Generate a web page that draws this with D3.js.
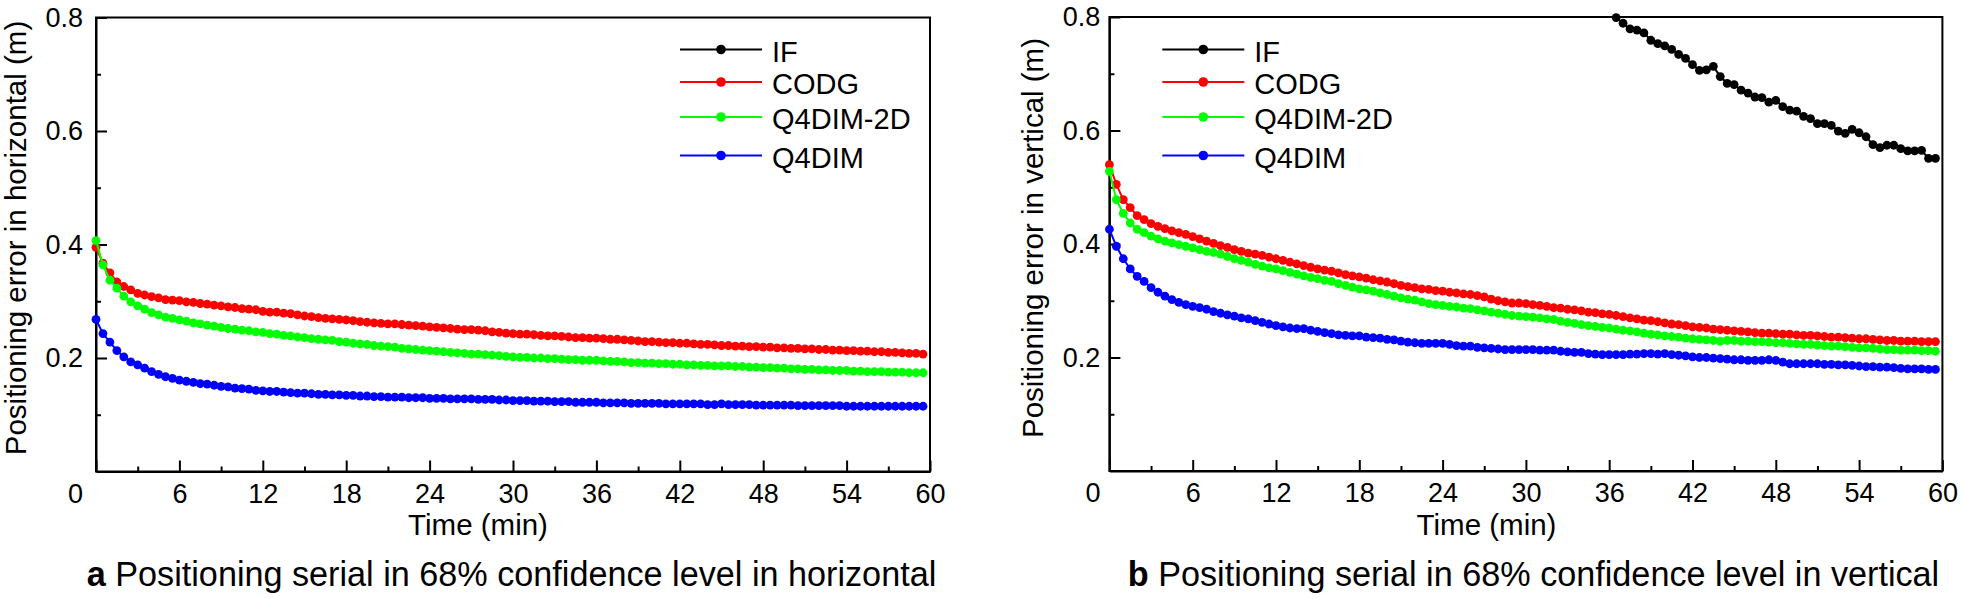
<!DOCTYPE html>
<html><head><meta charset="utf-8">
<script src="https://cdn.jsdelivr.net/npm/d3@7"></script>
<style>
body{margin:0;background:#fff}
svg{display:block;font-family:"Liberation Sans",Arial,Helvetica,sans-serif}
</style>
</head><body>
<svg id="chart" width="1961" height="599"></svg>
<script>
// ---------------- DATA ----------------
const seriesNames  = ["IF", "CODG", "Q4DIM-2D", "Q4DIM"];
const seriesColors = ["#000000", "#ff0000", "#00ff00", "#0000ff"];
const timeMin = d3.range(0, 60, 0.5);          // epochs every 0.5 min
const xTicks = [0, 6, 12, 18, 24, 30, 36, 42, 48, 54, 60];
const xMinorTicks = [3, 9, 15, 21, 27, 33, 39, 45, 51, 57];
const yTicks = [0.2, 0.4, 0.6, 0.8];
const yMinorTicks = [0.1, 0.3, 0.5, 0.7];
const captionA = ["a", " Positioning serial in 68% confidence level in horizontal"];
const captionB = ["b", " Positioning serial in 68% confidence level in vertical"];

// Horizontal (panel a) — IF lies above the 0.8 m axis limit for the whole session
const hIF = [];
const hIFStart = 0;
const hCODG = [
0.395,0.367,0.350,0.334,0.326,0.320,0.314,0.311,0.308,0.306,
0.303,0.302,0.301,0.299,0.298,0.296,0.295,0.293,0.292,0.290,
0.289,0.287,0.286,0.285,0.282,0.281,0.281,0.279,0.278,0.276,
0.274,0.273,0.271,0.270,0.269,0.268,0.267,0.266,0.264,0.263,
0.262,0.261,0.260,0.260,0.259,0.258,0.257,0.256,0.255,0.254,
0.253,0.252,0.251,0.250,0.250,0.249,0.248,0.246,0.245,0.244,
0.243,0.242,0.242,0.241,0.240,0.239,0.239,0.238,0.237,0.236,
0.236,0.235,0.235,0.234,0.233,0.233,0.232,0.231,0.230,0.229,
0.229,0.228,0.227,0.227,0.226,0.226,0.225,0.224,0.224,0.223,
0.222,0.222,0.221,0.221,0.220,0.220,0.219,0.219,0.218,0.218,
0.217,0.217,0.216,0.216,0.215,0.215,0.214,0.214,0.213,0.213,
0.212,0.212,0.211,0.211,0.210,0.210,0.209,0.208,0.208,0.207];
const hQ4DIM2D = [
0.407,0.364,0.337,0.323,0.309,0.299,0.292,0.286,0.280,0.276,
0.272,0.270,0.267,0.265,0.262,0.260,0.258,0.256,0.254,0.252,
0.251,0.249,0.248,0.246,0.245,0.243,0.242,0.240,0.239,0.237,
0.236,0.234,0.233,0.232,0.231,0.229,0.228,0.226,0.225,0.224,
0.222,0.221,0.220,0.219,0.217,0.216,0.215,0.214,0.213,0.212,
0.211,0.210,0.209,0.208,0.207,0.207,0.206,0.205,0.204,0.203,
0.202,0.201,0.201,0.200,0.200,0.199,0.199,0.198,0.197,0.197,
0.196,0.196,0.196,0.195,0.194,0.194,0.193,0.192,0.192,0.191,
0.191,0.190,0.190,0.189,0.189,0.188,0.188,0.187,0.187,0.186,
0.186,0.186,0.185,0.185,0.184,0.184,0.183,0.183,0.182,0.182,
0.181,0.181,0.180,0.180,0.179,0.179,0.178,0.178,0.178,0.177,
0.177,0.176,0.176,0.176,0.175,0.175,0.175,0.174,0.174,0.174];
const hQ4DIM = [
0.268,0.243,0.228,0.213,0.202,0.193,0.188,0.182,0.176,0.171,
0.167,0.164,0.161,0.159,0.157,0.155,0.154,0.152,0.150,0.149,
0.147,0.146,0.145,0.143,0.142,0.141,0.141,0.140,0.139,0.138,
0.138,0.137,0.136,0.136,0.135,0.135,0.134,0.134,0.133,0.133,
0.132,0.132,0.131,0.131,0.131,0.130,0.130,0.130,0.129,0.129,
0.129,0.128,0.128,0.128,0.128,0.127,0.127,0.127,0.126,0.126,
0.125,0.125,0.125,0.124,0.124,0.124,0.123,0.123,0.123,0.122,
0.122,0.122,0.122,0.121,0.121,0.121,0.121,0.120,0.120,0.120,
0.120,0.120,0.119,0.119,0.119,0.119,0.119,0.119,0.118,0.118,
0.119,0.118,0.118,0.118,0.118,0.117,0.117,0.117,0.117,0.117,
0.117,0.116,0.116,0.116,0.116,0.116,0.116,0.116,0.115,0.115,
0.115,0.115,0.115,0.115,0.115,0.115,0.115,0.115,0.115,0.115];

// Vertical (panel b) — IF enters the 0.8 m axis range at 36.5 min
const vIFStart = 36.5;
const vIF = [
0.799,0.789,0.779,0.777,0.772,0.759,0.753,0.749,0.743,0.734,
0.727,0.716,0.706,0.707,0.713,0.695,0.683,0.681,0.671,0.666,
0.659,0.658,0.650,0.653,0.642,0.636,0.634,0.625,0.621,0.612,
0.612,0.609,0.599,0.595,0.602,0.596,0.589,0.575,0.570,0.574,
0.574,0.568,0.564,0.564,0.565,0.551,0.551];
const vCODG = [
0.540,0.505,0.478,0.464,0.450,0.443,0.436,0.431,0.427,0.423,
0.420,0.417,0.413,0.409,0.405,0.401,0.397,0.394,0.390,0.387,
0.384,0.382,0.380,0.377,0.374,0.371,0.368,0.365,0.362,0.359,
0.356,0.354,0.352,0.349,0.346,0.344,0.342,0.340,0.337,0.335,
0.333,0.330,0.327,0.325,0.323,0.321,0.320,0.318,0.317,0.315,
0.314,0.312,0.311,0.309,0.307,0.303,0.300,0.298,0.296,0.296,
0.295,0.293,0.292,0.290,0.288,0.287,0.285,0.284,0.282,0.280,
0.279,0.277,0.276,0.274,0.272,0.270,0.268,0.266,0.265,0.263,
0.261,0.259,0.258,0.256,0.254,0.253,0.252,0.250,0.249,0.248,
0.247,0.246,0.245,0.244,0.243,0.243,0.242,0.241,0.241,0.240,
0.239,0.239,0.238,0.237,0.236,0.236,0.235,0.234,0.233,0.233,
0.232,0.231,0.230,0.230,0.229,0.229,0.229,0.228,0.228,0.228];
const vQ4DIM2D = [
0.528,0.478,0.454,0.437,0.426,0.420,0.414,0.409,0.405,0.402,
0.399,0.396,0.393,0.390,0.387,0.385,0.382,0.378,0.374,0.371,
0.368,0.364,0.361,0.358,0.356,0.353,0.350,0.347,0.344,0.341,
0.339,0.336,0.334,0.330,0.327,0.324,0.321,0.319,0.317,0.314,
0.311,0.308,0.305,0.303,0.301,0.298,0.295,0.293,0.292,0.290,
0.289,0.287,0.286,0.284,0.282,0.280,0.278,0.276,0.274,0.273,
0.272,0.271,0.270,0.268,0.267,0.264,0.262,0.260,0.258,0.256,
0.255,0.253,0.252,0.250,0.248,0.247,0.245,0.243,0.241,0.240,
0.238,0.237,0.236,0.234,0.233,0.232,0.231,0.230,0.229,0.230,
0.230,0.229,0.229,0.228,0.228,0.227,0.226,0.226,0.225,0.224,
0.223,0.223,0.222,0.221,0.220,0.220,0.219,0.218,0.217,0.217,
0.216,0.215,0.214,0.214,0.213,0.213,0.213,0.212,0.212,0.211];
const vQ4DIM = [
0.426,0.396,0.374,0.356,0.343,0.334,0.323,0.315,0.308,0.302,
0.297,0.293,0.290,0.288,0.285,0.281,0.278,0.275,0.273,0.270,
0.268,0.265,0.262,0.259,0.256,0.254,0.252,0.251,0.251,0.248,
0.246,0.244,0.242,0.240,0.239,0.238,0.238,0.236,0.235,0.234,
0.232,0.231,0.229,0.227,0.226,0.225,0.225,0.225,0.225,0.223,
0.221,0.220,0.220,0.218,0.217,0.216,0.215,0.214,0.214,0.214,
0.214,0.214,0.213,0.213,0.213,0.211,0.210,0.209,0.209,0.207,
0.206,0.205,0.205,0.205,0.205,0.206,0.206,0.207,0.207,0.206,
0.207,0.205,0.204,0.203,0.201,0.200,0.200,0.199,0.198,0.197,
0.196,0.196,0.195,0.195,0.195,0.196,0.195,0.192,0.189,0.189,
0.189,0.189,0.189,0.188,0.188,0.187,0.187,0.186,0.185,0.184,
0.184,0.183,0.183,0.182,0.181,0.180,0.180,0.180,0.179,0.179];

// ---------------- LAYOUT ----------------
const svg = d3.select("#chart");
const panels = [
  { left: 96, right: 930, top: 17.5, bottom: 471.5,
    yTitle: "Positioning error in horizontal (m)", yTitleX: 26, yLabelPad: 13,
    zeroShift: -21, xTitleX: 478, legendX: 680, caption: captionA, captionX: 511.5,
    series: [{d: hIF, s: hIFStart}, {d: hCODG, s: 0}, {d: hQ4DIM2D, s: 0}, {d: hQ4DIM, s: 0}] },
  { left: 1109.4, right: 1942.4, top: 17, bottom: 471,
    yTitle: "Positioning error in vertical (m)", yTitleX: 1043, yLabelPad: 9,
    zeroShift: -17, xTitleX: 1486.5, legendX: 1162.3, caption: captionB, captionX: 1533.5,
    series: [{d: vIF, s: vIFStart}, {d: vCODG, s: 0}, {d: vQ4DIM2D, s: 0}, {d: vQ4DIM, s: 0}] }
];
const legendRowsY = [49.5, 82, 117, 155.5];

panels.forEach(p => {
  const x = d3.scaleLinear().domain([0, 60]).range([p.left, p.right]);
  const y = d3.scaleLinear().domain([0, 0.8]).range([p.bottom, p.top]);
  const g = svg.append("g");

  // frame
  g.append("rect").attr("x", p.left).attr("y", p.top)
    .attr("width", p.right - p.left).attr("height", p.bottom - p.top)
    .attr("fill", "none").attr("stroke", "#000").attr("stroke-width", 2);

  // x axis
  const xa = g.append("g").attr("transform", `translate(0,${p.bottom})`)
    .call(d3.axisBottom(x).tickValues(xTicks).tickSize(-11).tickSizeOuter(0).tickPadding(12).tickFormat(d3.format("d")));
  g.append("g").attr("transform", `translate(0,${p.bottom})`)
    .call(d3.axisBottom(x).tickValues(xMinorTicks).tickSize(-5).tickSizeOuter(0).tickFormat(""))
    .call(a => a.select(".domain").remove());
  xa.selectAll("text").attr("font-size", 27).attr("font-family", "Liberation Sans, Arial, sans-serif").attr("fill", "#000");
  xa.selectAll(".tick").filter(d => d === 0).select("text").attr("dx", p.zeroShift);

  // y axis
  const ya = g.append("g").attr("transform", `translate(${p.left},0)`)
    .call(d3.axisLeft(y).tickValues(yTicks).tickSize(-11).tickSizeOuter(0).tickPadding(p.yLabelPad).tickFormat(d3.format(".1f")));
  g.append("g").attr("transform", `translate(${p.left},0)`)
    .call(d3.axisLeft(y).tickValues(yMinorTicks).tickSize(-5).tickSizeOuter(0).tickFormat(""))
    .call(a => a.select(".domain").remove());
  ya.selectAll("text").attr("font-size", 27).attr("font-family", "Liberation Sans, Arial, sans-serif").attr("fill", "#000");

  g.selectAll(".domain").attr("stroke-width", 2);
  g.selectAll(".tick line").attr("stroke-width", 2);

  // axis titles
  g.append("text").attr("x", p.xTitleX).attr("y", 535).attr("text-anchor", "middle")
    .attr("font-size", 29.5).text("Time (min)");
  g.append("text").attr("transform", `translate(${p.yTitleX},238) rotate(-90)`)
    .attr("text-anchor", "middle").attr("font-size", 29.5).text(p.yTitle);

  // series
  p.series.forEach((sr, i) => {
    const pts = sr.d.map((v, k) => [sr.s + k * 0.5, v]);
    if (!pts.length) return;
    const sg = g.append("g");
    sg.append("path").datum(pts)
      .attr("d", d3.line().x(d => x(d[0])).y(d => y(d[1])))
      .attr("fill", "none").attr("stroke", seriesColors[i]).attr("stroke-width", 2);
    sg.selectAll("circle").data(pts).join("circle")
      .attr("cx", d => x(d[0])).attr("cy", d => y(d[1])).attr("r", 4.4)
      .attr("fill", seriesColors[i]);
  });

  // legend
  seriesNames.forEach((name, i) => {
    const ly = legendRowsY[i];
    g.append("line").attr("x1", p.legendX).attr("x2", p.legendX + 82)
      .attr("y1", ly).attr("y2", ly).attr("stroke", seriesColors[i]).attr("stroke-width", 2);
    g.append("circle").attr("cx", p.legendX + 41).attr("cy", ly).attr("r", 4.8).attr("fill", seriesColors[i]);
    g.append("text").attr("x", p.legendX + 92).attr("y", ly + 12)
      .attr("font-size", 29).text(name);
  });

  // caption
  const cap = g.append("text").attr("x", p.captionX).attr("y", 586)
    .attr("text-anchor", "middle").attr("font-size", 34.2);
  cap.append("tspan").attr("font-weight", "bold").text(p.caption[0]);
  cap.append("tspan").text(p.caption[1]);
});
</script>
</body></html>
